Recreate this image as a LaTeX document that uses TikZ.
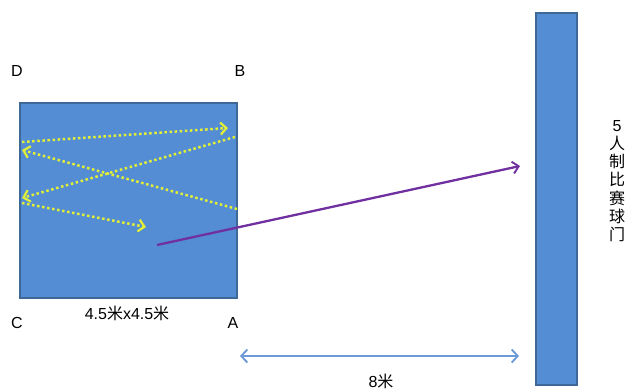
\documentclass[tikz,border=0pt]{standalone}
\usepackage{fontspec}
\setmainfont{Liberation Sans}
\newfontfamily\cjk{Noto Sans CJK SC}
\usetikzlibrary{arrows.meta}
\definecolor{field}{RGB}{84,141,212}
\definecolor{fieldedge}{RGB}{62,104,150}
\definecolor{pass}{RGB}{225,240,55}
\definecolor{shot}{RGB}{112,48,160}
\definecolor{span}{RGB}{108,155,215}

\begin{document}
\begin{tikzpicture}[x=1pt, y=-1pt,
  lbl/.style={font=\fontsize{16}{18}\selectfont, inner sep=0},
  passline/.style={pass, line width=2.5pt, dash pattern=on 2.5pt off 2.6pt,
    -{Straight Barb[length=6pt, width=12pt, line width=2.2pt]}},
  shotline/.style={shot, line width=2.3pt,
    -{Straight Barb[length=6pt, width=12pt, line width=1.9pt]}},
  spanline/.style={span, line width=2.3pt,
    {Straight Barb[length=6pt, width=13pt, line width=1.9pt]}-{Straight Barb[length=6pt, width=13pt, line width=1.9pt]}}]
  \useasboundingbox (0,0) rectangle (629,391);

  % Field (4.5 x 4.5)
  \node[draw=fieldedge, fill=field, line width=1.5pt, minimum width=217pt,
    minimum height=195pt, inner sep=0, anchor=north west] (field) at (19,102) {};

  % Corner labels
  \node[lbl] (cornerD) at (17,71) {D};
  \node[lbl] (cornerB) at (240,71) {B};
  \node[lbl] (cornerC) at (17,323) {C};
  \node[lbl] (cornerA) at (233,323) {A};
  \node[lbl] (fieldsize) at (127,313) {4.5{\cjk 米}x4.5{\cjk 米}};

  % Goal
  \node[draw=fieldedge, fill=field, line width=1.5pt, minimum width=41pt,
    minimum height=372pt, inner sep=0, anchor=north west] (goal) at (535,12) {};
  \node[lbl, align=center, font=\cjk\fontsize{16}{18.2}\selectfont] (goalname) at (617,181)
    {{\rmfamily 5}\\人\\制\\比\\赛\\球\\门};

  % Passes inside the field
  \draw[passline] (22,142) -- (228,128);
  \draw[passline] (235,137) -- (22,198);
  \draw[passline] (237,209) -- (22,150);
  \draw[passline] (22,203) -- (146,227);

  % Shot at goal
  \coordinate (kick) at (157,245);
  \coordinate (aim) at (520,166);
  \draw[shotline] (kick) -- (aim);

  % Distance
  \coordinate (fieldA) at (240,356);
  \coordinate (goalfoot) at (519,356);
  \draw[spanline] (fieldA) -- (goalfoot);
  \node[lbl] (distance) at (381,381) {8{\cjk 米}};
\end{tikzpicture}
\end{document}
